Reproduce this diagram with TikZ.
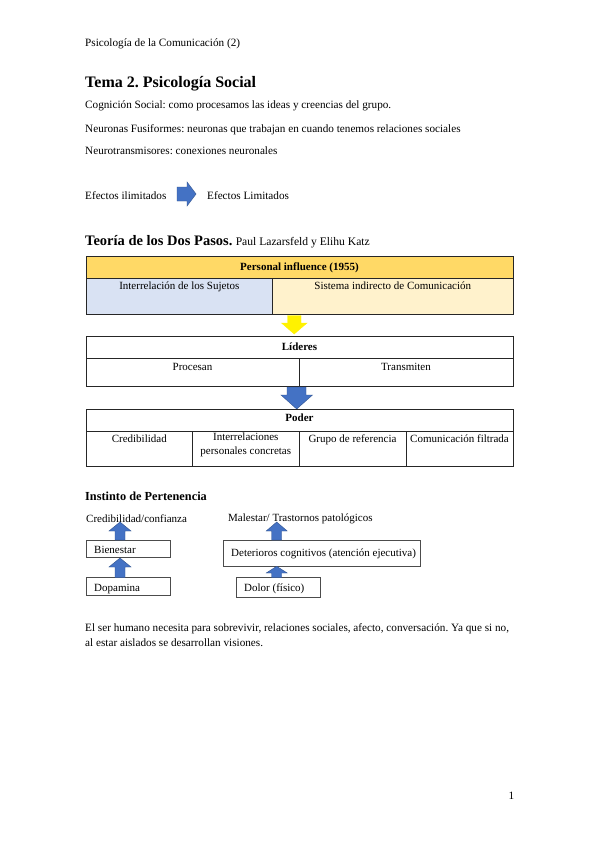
\documentclass[tikz,border=0pt]{standalone}
\usepackage{fontspec}
\setmainfont{Liberation Serif}
\frenchspacing
\begin{document}
\frenchspacing
\begin{tikzpicture}[x=1pt,y=-1pt,
  txt/.style={inner sep=0pt,anchor=base west,font=\fontsize{11.2}{13}\selectfont},
  btxt/.style={inner sep=0pt,anchor=base west,font=\fontsize{11}{13}\selectfont},
  ctxt/.style={inner sep=0pt,anchor=base,font=\fontsize{11}{14}\selectfont,align=center},
  hdr/.style={inner sep=0pt,anchor=base,font=\fontsize{11}{13}\selectfont\bfseries},
  cell/.style={draw=black!85,line width=0.6pt},
  ibox/.style={draw=black!70,line width=0.6pt,fill=white},
]
\definecolor{gold}{HTML}{FFD966}
\definecolor{lblue}{HTML}{D9E2F3}
\definecolor{lyel}{HTML}{FFF2CC}
\definecolor{arrblue}{HTML}{4472C4}
\definecolor{arrbord}{HTML}{2F528F}
\tikzset{bluearr/.style={fill=arrblue,draw=arrbord,line width=0.4pt}}
\fill[white] (0,0) rectangle (599,848);
\useasboundingbox (0,0) rectangle (599,848);

% header
\node[txt] (head) at (85,47) {Psicología de la Comunicación (2)};
\node[txt,font=\fontsize{16}{19}\selectfont\bfseries] (title) at (85,88) {Tema 2. Psicología Social};
\node[txt] (l1) at (85,109) {Cognición Social: como procesamos las ideas y creencias del grupo.};
\node[txt] (l2) at (85,132) {Neuronas Fusiformes: neuronas que trabajan en cuando tenemos relaciones sociales};
\node[txt] (l3) at (85,154) {Neurotransmisores: conexiones neuronales};

\node[txt] (ef1) at (85,199) {Efectos ilimitados};
\node[txt] (ef2) at (207,199) {Efectos Limitados};
\draw[bluearr] (177,187) -- (187,187) -- (187,182) -- (196,194) -- (187,206) -- (187,201) -- (177,201) -- cycle;

\node[txt,font=\fontsize{14.5}{17}\selectfont\bfseries] (teo) at (85,245) {Teoría de los Dos Pasos.};
\node[txt,font=\fontsize{11.6}{13}\selectfont,anchor=base west] (aut) at (teo.base east) {\ Paul Lazarsfeld y Elihu Katz};

% table 1
\fill[gold] (86,256) rectangle (513,278);
\fill[lblue] (86,278) rectangle (272.7,314);
\fill[lyel] (272.7,278) rectangle (513,314);
\draw[cell] (86,256) rectangle (513,314);
\draw[cell] (86,278) -- (513,278);
\draw[cell] (272.7,278) -- (272.7,314);
\node[hdr] (t1h) at (299.5,270) {Personal influence (1955)};
\node[ctxt] (t1a) at (179.3,289) {Interrelación de los Sujetos};
\node[ctxt] (t1b) at (392.8,289) {Sistema indirecto de Comunicación};

% yellow arrow
\draw[fill=yellow,draw=yellow] (287.5,315.5) -- (301,315.5) -- (301,323) -- (307,323) -- (294.2,334) -- (281.5,323) -- (287.5,323) -- cycle;

% table 2
\draw[cell] (86,336) rectangle (513,386.5);
\draw[cell] (86,358.3) -- (513,358.3);
\draw[cell] (299,358.3) -- (299,386.5);
\node[hdr] (t2h) at (299.5,350) {Líderes};
\node[ctxt] (t2a) at (192.5,370) {Procesan};
\node[ctxt] (t2b) at (406,370) {Transmiten};

% blue down arrow
\draw[bluearr] (287,387) -- (306,387) -- (306,395) -- (312.5,395) -- (296.7,409) -- (281,395) -- (287,395) -- cycle;

% table 3
\draw[cell] (86,409) rectangle (513,466.7);
\draw[cell] (86,431) -- (513,431);
\foreach \xx in {192.7,299,406} \draw[cell] (\xx,431) -- (\xx,466.7);
\node[hdr] (t3h) at (299.5,421.5) {Poder};
\node[ctxt] (t3a) at (139.3,442) {Credibilidad};
\node[ctxt,anchor=north] (t3b) at (245.8,432.5) {Interrelaciones\\personales concretas};
\node[ctxt] (t3c) at (352.5,442) {Grupo de referencia};
\node[ctxt] (t3d) at (459.5,442) {Comunicación filtrada};

% Instinto
\node[txt,font=\fontsize{12.3}{14}\selectfont\bfseries] (ins) at (85,500) {Instinto de Pertenencia};
\node[btxt] (cred) at (86,522) {Credibilidad/confianza};
\node[btxt] (mal) at (228,521.5) {Malestar/ Trastornos patológicos};

\draw[ibox] (86,540) rectangle (170.7,557);
\node[btxt] (bien) at (94,553) {Bienestar};
\draw[ibox] (86,577.7) rectangle (170.7,595);
\node[btxt] (dopa) at (94,591) {Dopamina};
\draw[ibox] (223.3,540) rectangle (420,566);
\node[btxt] (det) at (231,556) {Deterioros cognitivos (atención ejecutiva)};
\draw[ibox] (236.7,577.7) rectangle (320,597.7);
\node[btxt] (dol) at (244,591.5) {Dolor (físico)};

% up arrows
\draw[bluearr] (115,540) -- (115,531) -- (109,531) -- (120,522) -- (131,531) -- (125,531) -- (125,540) -- cycle;
\draw[bluearr] (115,577.5) -- (115,567) -- (109,567) -- (120,558) -- (131,567) -- (125,567) -- (125,577.5) -- cycle;
\draw[bluearr] (271.7,540) -- (271.7,531) -- (266.2,531) -- (276.7,522) -- (287.2,531) -- (281.7,531) -- (281.7,540) -- cycle;
\draw[bluearr] (271.7,577.5) -- (271.7,573) -- (266.2,573) -- (276.7,566.3) -- (287.2,573) -- (281.7,573) -- (281.7,577.5) -- cycle;

% paragraph
\node[txt] (p1) at (85,631) {El ser humano necesita para sobrevivir, relaciones sociales, afecto, conversación. Ya que si no,};
\node[txt] (p2) at (85,646) {al estar aislados se desarrollan visiones.};

\node[txt] (pg) at (508.5,799) {1};
\end{tikzpicture}
\end{document}
